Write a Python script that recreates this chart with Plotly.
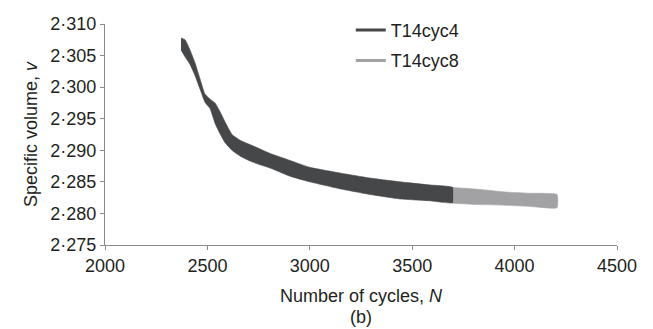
import plotly.graph_objects as go

# ---- data ----
cyc4_cycles = [2371, 2391, 2415, 2439, 2464, 2488, 2513, 2537, 2562, 2586, 2620, 2659,
               2708, 2757, 2806, 2903, 3000, 3147, 3294, 3440, 3587, 3700]
cyc4_upper = [2.3078, 2.3075, 2.3059, 2.3039, 2.3013, 2.2989, 2.2981, 2.2975, 2.2961, 2.2945,
              2.2925, 2.2916, 2.2909, 2.2902, 2.2895, 2.2884, 2.2873, 2.2864, 2.2856, 2.2850,
              2.2845, 2.2841]
cyc4_lower = [2.3059, 2.3048, 2.3036, 2.3019, 2.2997, 2.2976, 2.2966, 2.2943, 2.2926, 2.2912,
              2.2900, 2.2891, 2.2883, 2.2877, 2.2872, 2.2859, 2.2850, 2.2839, 2.2830, 2.2823,
              2.2820, 2.2817]

cyc8_cycles = [3700, 3831, 3953, 4075, 4207]
cyc8_upper = [2.2841, 2.2838, 2.2834, 2.2832, 2.2830]
cyc8_lower = [2.2816, 2.2814, 2.2813, 2.2811, 2.2809]

series_names = ["T14cyc4", "T14cyc8"]
series_colors = ["#464749", "#a2a2a5"]

x_ticks = [2000, 2500, 3000, 3500, 4000, 4500]
y_ticks = [2.275, 2.280, 2.285, 2.290, 2.295, 2.300, 2.305, 2.310]
y_ticktext = [f"{v:.3f}".replace(".", "·") for v in y_ticks]

FONT = "Liberation Sans, Arial, sans-serif"
TXT = "#231f20"
FS = 18

fig = go.Figure()

bands = [(cyc4_cycles, cyc4_upper, cyc4_lower), (cyc8_cycles, cyc8_upper, cyc8_lower)]
for (cx, up, lo), name, col in zip(bands, series_names, series_colors):
    fig.add_trace(go.Scatter(
        x=list(cx) + list(reversed(cx)),
        y=list(up) + list(reversed(lo)),
        fill="toself", fillcolor=col, mode="lines",
        line=dict(color=col, width=0.6, shape="spline", smoothing=0.4),
        showlegend=False, hoverinfo="skip"))

for i, (name, col) in enumerate(zip(series_names, series_colors)):
    fig.add_trace(go.Scatter(
        x=[None], y=[None], mode="lines", name=name,
        line=dict(color=col, width=3), legendgroup=f"g{i}"))

axis_common = dict(
    showgrid=False, zeroline=False, showline=True, linecolor="#8a8a8a", linewidth=1,
    ticks="outside", ticklen=4, tickcolor="#8a8a8a", tickwidth=1,
    tickfont=dict(family=FONT, size=FS, color=TXT),
)

fig.update_layout(
    width=653, height=329,
    margin=dict(l=105, r=36, t=21, b=84),
    paper_bgcolor="white", plot_bgcolor="white",
    font=dict(family=FONT, size=FS, color=TXT),
    xaxis=dict(range=[2000, 4500], tickvals=x_ticks, **axis_common,
               title=dict(text="Number of cycles, <i>N</i>", font=dict(size=FS), standoff=14)),
    yaxis=dict(range=[2.275, 2.310], tickvals=y_ticks, ticktext=y_ticktext, **axis_common,
               title=dict(text="Specific volume, <i>v</i>", font=dict(size=FS), standoff=8)),
    legend=dict(x=0.48, y=1.055, xanchor="left", yanchor="top", bgcolor="rgba(0,0,0,0)",
                font=dict(family=FONT, size=FS, color=TXT), tracegroupgap=4,
                traceorder="grouped"),
    annotations=[dict(text="(b)", xref="paper", yref="paper", x=0.5, y=-0.326,
                      xanchor="center", yanchor="middle", showarrow=False,
                      font=dict(family=FONT, size=FS, color=TXT))],
)

fig.write_html("out.html")
